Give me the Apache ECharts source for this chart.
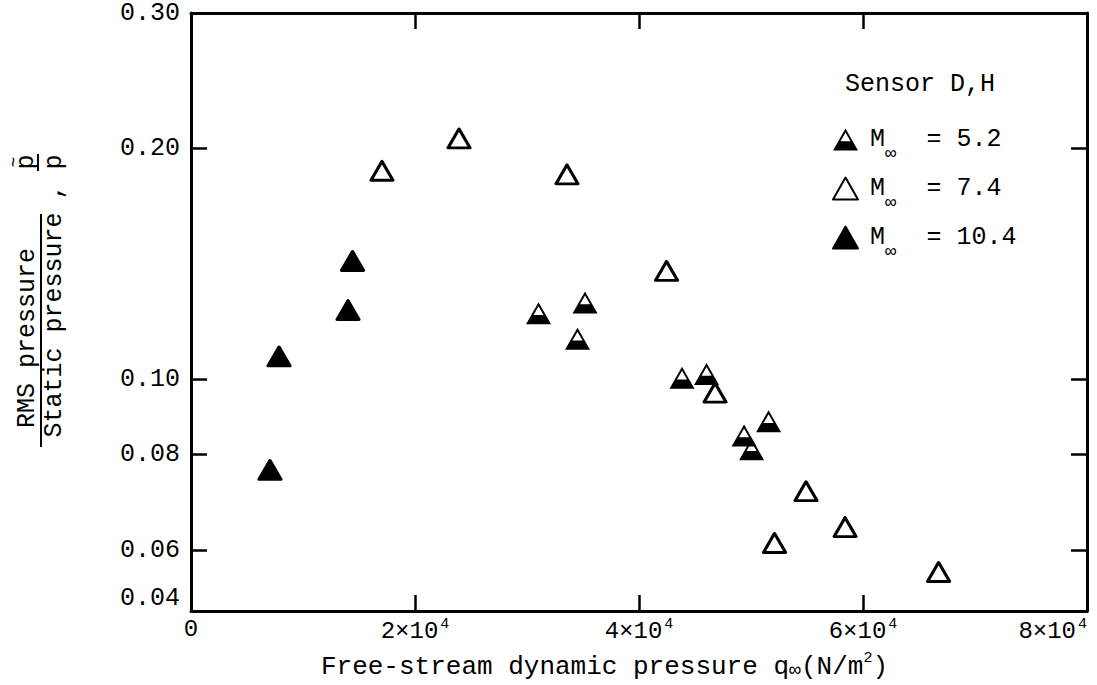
<!DOCTYPE html>
<html>
<head>
<meta charset="utf-8">
<script src="https://cdn.jsdelivr.net/npm/echarts@6/dist/echarts.min.js"></script>
<style>html,body{margin:0;padding:0;background:#fff}#c{width:1097px;height:685px}</style>
</head>
<body>
<div id="c"></div>
<script>
// ---- data ----
const machLabels = ['5.2', '7.4', '10.4'];
const m52X = [31030, 35180, 34510, 43840, 46030, 51570, 49380, 50050];
const m52Y = [0.122, 0.126, 0.113, 0.1006, 0.1017, 0.0883, 0.0846, 0.0812];
const m74X = [17050, 23930, 33570, 42460, 46790, 52100, 54910, 58400, 66750];
const m74Y = [0.187, 0.206, 0.185, 0.1385, 0.0962, 0.0613, 0.0716, 0.0643, 0.0562];
const m104X = [7050, 7860, 14020, 14420];
const m104Y = [0.0763, 0.1072, 0.1232, 0.1427];

const xTickValues = [0, 20000, 40000, 60000, 80000];
const xTickLabels = ['0', '2×10^4', '4×10^4', '6×10^4', '8×10^4'];
const yLabelValues = [0.05, 0.06, 0.08, 0.10, 0.20, 0.30];
const yTickLabels = ['0.04', '0.06', '0.08', '0.10', '0.20', '0.30'];
const yTickMarks = [0.06, 0.08, 0.10, 0.20];

// ---- helpers ----
const FONT = '"Liberation Mono", "DejaVu Sans Mono", monospace';
const zip = (xs, ys) => xs.map((x, i) => [x, ys[i]]);
const HALF = 'path://M50 0L100 88L0 88ZM50 16L30 51L70 51Z';

function xFmt(v) {
  let i = xTickValues.findIndex(t => Math.abs(t - v) < 1);
  if (i < 0) return '';
  const parts = xTickLabels[i].split('^');
  return parts.length > 1 ? '{a|' + parts[0] + '}{s|' + parts[1] + '}' : '{a|' + parts[0] + '}';
}
function yFmt(v) {
  let best = 0, d = Infinity;
  yLabelValues.forEach((t, i) => { const dd = Math.abs(Math.log(t) - Math.log(v)); if (dd < d) { d = dd; best = i; } });
  return yTickLabels[best];
}

const axisLine = { show: true, onZero: false, lineStyle: { color: '#000', width: 3 } };
const axisTickBase = { show: true, inside: true, length: 16, lineStyle: { color: '#000', width: 2.5 } };

const names = machLabels.map(m => 'M∞ = ' + m);

const chart = echarts.init(document.getElementById('c'), null, { renderer: 'svg' });
chart.setOption({
  animation: false,
  backgroundColor: '#fff',
  grid: { left: 191, right: 10, top: 13, bottom: 74, outerBoundsMode: 'none', containLabel: false },
  title: {
    text: 'Sensor D,H', left: 845, top: 72, padding: 0,
    textStyle: { fontFamily: FONT, fontSize: 25, fontWeight: 'normal', color: '#000' }
  },
  legend: {
    orient: 'vertical', left: 827, top: 122, itemWidth: 25, itemHeight: 22, itemGap: 13,
    selectedMode: false, data: names,
    formatter: function (name) {
      const m = name.split('= ')[1];
      return '{m|M}{s|∞}{t|= ' + m + '}';
    },
    textStyle: {
      color: '#000',
      rich: {
        m: { fontFamily: FONT, fontSize: 25, color: '#000', padding: [0, 0, 0, 7] },
        s: { fontFamily: FONT, fontSize: 19, color: '#000', padding: [28, 0, 0, 0] },
        t: { fontFamily: FONT, fontSize: 25, color: '#000', padding: [0, 0, 0, 30] }
      }
    }
  },
  xAxis: [{
    type: 'value', min: 0, max: 80000, interval: 20000, position: 'bottom',
    axisLine: axisLine, axisTick: axisTickBase, splitLine: { show: false },
    axisLabel: {
      margin: 6, color: '#000', formatter: xFmt, alignMaxLabel: 'right',
      rich: {
        a: { fontFamily: FONT, fontSize: 24, color: '#000' },
        s: { fontFamily: FONT, fontSize: 15, color: '#000', padding: [0, 0, 14, 2] }
      }
    },
    name: '{a|Free-stream dynamic pressure q}{s|∞}{a|(N/m}{p|2}{a|)}',
    nameLocation: 'middle', nameGap: 40,
    nameTextStyle: {
      padding: [0, 69, 0, 0],
      rich: {
        a: { fontFamily: FONT, fontSize: 26, color: '#000' },
        s: { fontFamily: FONT, fontSize: 20, color: '#000', padding: [8, 0, 0, 0] },
        p: { fontFamily: FONT, fontSize: 15, color: '#000', padding: [0, 0, 16, 0] }
      }
    }
  }, {
    type: 'value', min: 0, max: 80000, interval: 20000, position: 'top',
    axisLine: axisLine, axisTick: axisTickBase, splitLine: { show: false },
    axisLabel: { show: false }
  }],
  yAxis: [{
    type: 'log', logBase: 10, min: 0.05, max: 0.30, position: 'left',
    axisLine: axisLine, splitLine: { show: false }, minorTick: { show: false },
    axisTick: Object.assign({}, axisTickBase, { customValues: yTickMarks }),
    axisLabel: { customValues: yLabelValues, formatter: yFmt, margin: 11, color: '#000', fontFamily: FONT, fontSize: 25,
      verticalAlignMinLabel: 'bottom' }
  }, {
    type: 'log', logBase: 10, min: 0.05, max: 0.30, position: 'right',
    axisLine: axisLine, splitLine: { show: false }, minorTick: { show: false },
    axisTick: Object.assign({}, axisTickBase, { customValues: yTickMarks }),
    axisLabel: { show: false }
  }],
  graphic: [
    { type: 'text', x: 27, y: 338, rotation: Math.PI / 2,
      style: { text: 'RMS pressure', font: '25px ' + FONT, fill: '#000', align: 'center', verticalAlign: 'middle', textAlign: 'center', textVerticalAlign: 'middle' } },
    { type: 'line', shape: { x1: 41, y1: 214, x2: 41, y2: 447 }, style: { stroke: '#000', lineWidth: 2 } },
    { type: 'text', x: 54, y: 325, rotation: Math.PI / 2,
      style: { text: 'Static pressure', font: '25px ' + FONT, fill: '#000', align: 'center', verticalAlign: 'middle', textAlign: 'center', textVerticalAlign: 'middle' } },
    { type: 'text', x: 54, y: 192, rotation: Math.PI / 2,
      style: { text: ',', font: '25px ' + FONT, fill: '#000', align: 'center', verticalAlign: 'middle', textAlign: 'center', textVerticalAlign: 'middle' } },
    { type: 'text', x: 14, y: 162, rotation: Math.PI / 2,
      style: { text: '~', font: '18px ' + FONT, fill: '#000', align: 'center', verticalAlign: 'middle', textAlign: 'center', textVerticalAlign: 'middle' } },
    { type: 'text', x: 26, y: 162, rotation: Math.PI / 2,
      style: { text: 'p', font: '25px ' + FONT, fill: '#000', align: 'center', verticalAlign: 'middle', textAlign: 'center', textVerticalAlign: 'middle' } },
    { type: 'line', shape: { x1: 38, y1: 154, x2: 38, y2: 171 }, style: { stroke: '#000', lineWidth: 2 } },
    { type: 'text', x: 54, y: 162, rotation: Math.PI / 2,
      style: { text: 'p', font: '25px ' + FONT, fill: '#000', align: 'center', verticalAlign: 'middle', textAlign: 'center', textVerticalAlign: 'middle' } }
  ],
  series: [{
    name: names[0], type: 'scatter', data: zip(m52X, m52Y),
    symbol: HALF, symbolSize: [25, 22], itemStyle: { color: '#000', opacity: 1 },
    emphasis: { disabled: true }
  }, {
    name: names[1], type: 'scatter', data: zip(m74X, m74Y),
    symbol: 'triangle', symbolSize: [22, 19],
    itemStyle: { color: '#fff', borderColor: '#000', borderWidth: 3, borderJoin: 'round', opacity: 1 },
    emphasis: { disabled: true }
  }, {
    name: names[2], type: 'scatter', data: zip(m104X, m104Y),
    symbol: 'triangle', symbolSize: [22, 19],
    itemStyle: { color: '#000', borderColor: '#000', borderWidth: 3, borderJoin: 'round', opacity: 1 },
    emphasis: { disabled: true }
  }]
});
</script>
</body>
</html>
